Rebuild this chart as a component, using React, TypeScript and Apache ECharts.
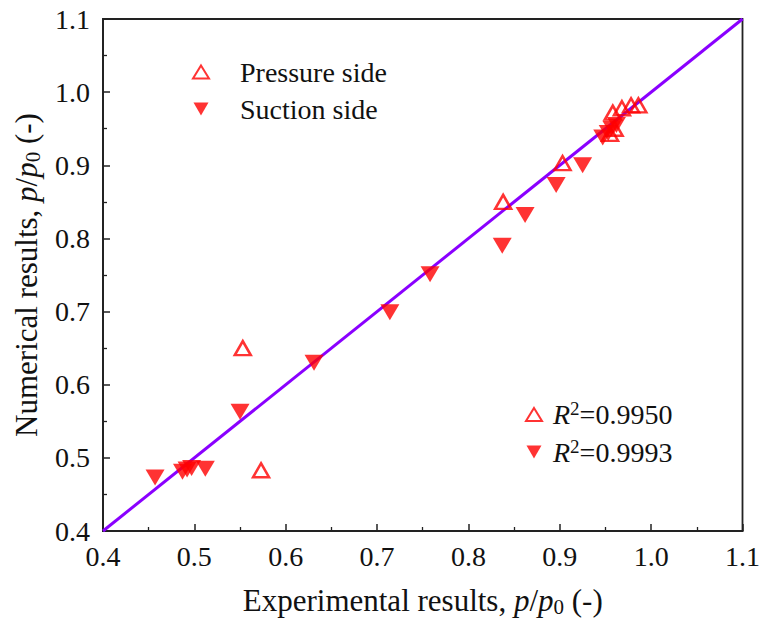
import React, { useEffect, useRef } from "react";
import * as echarts from "echarts";

const pressureX = [0.553, 0.573, 0.838, 0.903, 0.955, 0.960, 0.958, 0.968, 0.978, 0.986];
const pressureY = [0.650, 0.483, 0.850, 0.903, 0.943, 0.950, 0.972, 0.978, 0.982, 0.982];
const suctionX = [0.457, 0.487, 0.492, 0.497, 0.512, 0.550, 0.631, 0.714, 0.758, 0.837, 0.862, 0.896, 0.925, 0.947, 0.953, 0.957, 0.962];
const suctionY = [0.473, 0.481, 0.484, 0.486, 0.485, 0.563, 0.630, 0.699, 0.751, 0.790, 0.832, 0.873, 0.900, 0.938, 0.944, 0.950, 0.955];
const refLine = [0.4, 1.1];
const seriesNames = ["Pressure side", "Suction side"];
const r2Values = ["0.9950", "0.9993"];

const FONT = "Liberation Serif";
const INV_TRI = "path://M0,0L20,0L10,17.32Z";

export default function App() {
  const ref = useRef<HTMLDivElement>(null);
  useEffect(() => {
    const chart = echarts.init(ref.current!, undefined, { renderer: "svg" });
    const axisCommon = {
      type: "value",
      min: 0.4,
      max: 1.1,
      interval: 0.1,
      axisLine: { show: true, lineStyle: { color: "#222", width: 1.8 } },
      axisTick: { show: true, inside: true, length: 7, lineStyle: { color: "#222", width: 1.5 } },
      minorTick: { show: true, splitNumber: 2, length: 4, lineStyle: { color: "#222", width: 1.3 } },
      splitLine: { show: false },
      axisLabel: {
        color: "#111",
        fontFamily: FONT,
        fontSize: 28,
        formatter: (v: number) => v.toFixed(1),
      },
    };
    const nameRich = {
      n: { fontFamily: FONT, fontSize: 31, color: "#111" },
      i: { fontFamily: FONT, fontSize: 31, color: "#111", fontStyle: "italic" },
      sub: { fontFamily: FONT, fontSize: 21, color: "#111", verticalAlign: "bottom", padding: [13, 0, 0, 0] },
    };
    chart.setOption({
      animation: false,
      backgroundColor: "#fff",
      grid: {
        left: 103,
        right: 20,
        top: 19,
        bottom: 99,
        show: true,
        borderColor: "#222",
        borderWidth: 1.8,
        backgroundColor: "transparent",
      },
      xAxis: {
        ...axisCommon,
        axisLabel: { ...axisCommon.axisLabel, margin: 11 },
        name: "{n|Experimental results, }{i|p}{n|/}{i|p}{sub|0}{n| (-)}",
        nameLocation: "middle",
        nameGap: 52,
        nameTextStyle: { rich: nameRich },
      },
      yAxis: {
        ...axisCommon,
        axisLabel: { ...axisCommon.axisLabel, margin: 13 },
        name: "{n|Numerical results, }{i|p}{n|/}{i|p}{sub|0}{n| (-)}",
        nameLocation: "middle",
        nameGap: 60,
        nameTextStyle: { rich: nameRich },
      },
      legend: [
        {
          data: seriesNames,
          orient: "vertical",
          left: 192,
          top: 57,
          padding: 0,
          itemWidth: 16,
          itemHeight: 13,
          itemGap: 7,
          textStyle: { fontFamily: FONT, fontSize: 28, lineHeight: 30, color: "#111", padding: [0, 0, 0, 26] },
        },
        {
          data: seriesNames,
          orient: "vertical",
          left: 525,
          top: 399,
          padding: 0,
          itemWidth: 16,
          itemHeight: 13,
          itemGap: 8,
          formatter: (name: string) =>
            "{i|R}{sup|2}{n|=" + r2Values[seriesNames.indexOf(name)] + "}",
          textStyle: {
            padding: [0, 0, 0, 6],
            rich: {
              n: { fontFamily: FONT, fontSize: 28, lineHeight: 30, color: "#111" },
              i: { fontFamily: FONT, fontSize: 28, lineHeight: 30, color: "#111", fontStyle: "italic" },
              sup: { fontFamily: FONT, fontSize: 19, color: "#111", verticalAlign: "top", padding: [0, 0, 12, 0] },
            },
          },
        },
      ],
      series: [
        {
          type: "line",
          data: refLine.map((v) => [v, v]),
          showSymbol: false,
          lineStyle: { color: "#8A00FF", width: 3 },
          z: 1,
          silent: true,
        },
        {
          name: seriesNames[0],
          type: "scatter",
          data: pressureX.map((x, i) => [x, pressureY[i]]),
          symbol: "triangle",
          symbolSize: [16, 14],
          itemStyle: { color: "rgba(255,255,255,0)", borderColor: "#FF0000", borderWidth: 2.5 },
          z: 2,
        },
        {
          name: seriesNames[1],
          type: "scatter",
          data: suctionX.map((x, i) => [x, suctionY[i]]),
          symbol: INV_TRI,
          symbolSize: [19, 16],
          itemStyle: { color: "#FF0000" },
          z: 3,
        },
      ],
    });
    return () => chart.dispose();
  }, []);
  return (
    <div
      ref={ref}
      style={{ position: "fixed", left: 0, top: 0, width: 763, height: 630 }}
    />
  );
}
